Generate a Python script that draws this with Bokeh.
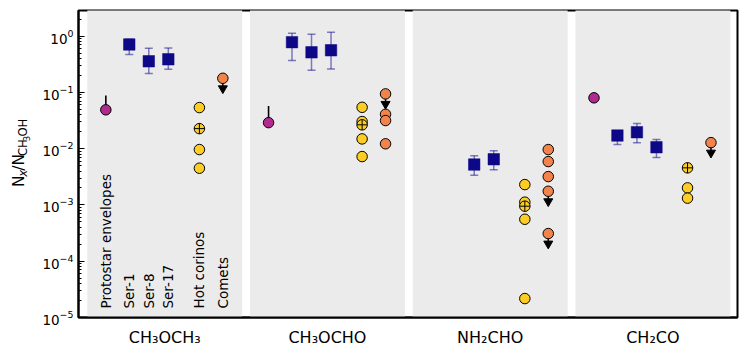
import numpy as np
from bokeh.plotting import figure
from bokeh.layouts import row
from bokeh.models import ColumnDataSource, FixedTicker, LabelSet, Range1d
from bokeh.core.properties import value
from bokeh.embed import file_html
from bokeh.resources import INLINE

# ---------------- data ----------------
molecules = ["CH₃OCH₃", "CH₃OCHO", "NH₂CHO", "CH₂CO"]
source_names = ["Protostar envelopes", "Ser-1", "Ser-8", "Ser-17", "Hot corinos", "Comets"]
source_offsets = [-0.362, -0.218, -0.098, 0.022, 0.213, 0.357]

# Protostar envelopes
env_group = [0, 1, 3]
env_vals = [0.049, 0.029, 0.080]
env_bar_group = [0, 1]
env_bar_vals = [0.049, 0.029]
env_bar_tops = [0.088, 0.057]

# Serpens sources
ser1_group = [0, 1, 3]
ser1_vals = [0.71, 0.78, 0.0171]
ser1_upper = [0.88, 1.12, 0.020]
ser1_lower = [0.47, 0.37, 0.0118]

ser8_group = [0, 1, 2, 3]
ser8_vals = [0.357, 0.515, 0.00522, 0.0196]
ser8_upper = [0.607, 1.08, 0.00745, 0.0279]
ser8_lower = [0.216, 0.247, 0.00337, 0.0128]

ser17_group = [0, 1, 2, 3]
ser17_vals = [0.387, 0.560, 0.00648, 0.0106]
ser17_upper = [0.617, 1.17, 0.00914, 0.0145]
ser17_lower = [0.257, 0.261, 0.0042, 0.00695]

# Hot corinos
hot_group = [0, 0, 0, 1, 1, 1, 1, 2, 2, 2, 2, 3, 3]
hot_vals = [0.0537, 0.00964, 0.00449,
            0.0543, 0.0303, 0.0149, 0.00724,
            0.0023, 0.00112, 0.000557, 2.17e-5,
            0.00201, 0.00132]
hot_cross_group = [0, 1, 2, 3]
hot_cross_vals = [0.0227, 0.0265, 0.00095, 0.00456]

# Comets
comet_group = [1, 1, 1, 2, 2, 2]
comet_vals = [0.0408, 0.0316, 0.0122, 0.00964, 0.0059, 0.00319]
comet_lim_group = [0, 1, 2, 2, 3]
comet_lim_vals = [0.178, 0.094, 0.00175, 0.00031, 0.0128]

# y-axis title pieces: N_x / N_{CH3OH}
ylabel_text = ["N", "x", "/N", "CH", "3", "OH"]
ylabel_level = [0, 1, 0, 1, 2, 1]          # 0 normal, 1 subscript, 2 sub-subscript
ylabel_style = ["normal", "italic", "normal", "normal", "normal", "normal"]
ylabel_em = [0.748, 0.592, 0.337 + 0.748, 0.698 + 0.752, 0.636, 0.787 + 0.752]

# ---------------- style ----------------
C_ENV = "#b12a90"
C_SER = "#0d0887"
C_HOT = "#fcce25"
C_COM = "#f2844b"
PANEL = "#ebebeb"
FONT = "DejaVu Sans"

LABEL_W = 36
x_start, x_end = -0.53, 3.52
y_start, y_end = 1e-5, 2.85

p = figure(frame_width=659, frame_height=307, y_axis_type="log",
           x_range=Range1d(x_start, x_end), y_range=Range1d(y_start, y_end),
           output_backend="svg", toolbar_location=None,
           min_border_left=78 - LABEL_W, min_border_right=11, min_border_top=10, min_border_bottom=33)
p.background_fill_color = "white"
p.border_fill_color = "white"
p.outline_line_color = "black"
p.outline_line_width = 2
p.xgrid.visible = False
p.ygrid.visible = False


def xs(groups, k):
    return [g + source_offsets[k] for g in groups]


# panels
groups = list(range(len(molecules)))
p.quad(left=[g - 0.476 for g in groups], right=[g + 0.476 for g in groups],
       bottom=[y_start * 0.1] * len(groups), top=[y_end * 10] * len(groups),
       fill_color=PANEL, line_color=None)

# protostar envelopes
p.segment(x0=xs(env_bar_group, 0), y0=env_bar_vals, x1=xs(env_bar_group, 0), y1=env_bar_tops,
          line_color="black", line_width=1.6)
p.scatter(xs(env_group, 0), env_vals, marker="circle", size=10.5,
          fill_color=C_ENV, line_color="black", line_width=1)

# Serpens with error bars
for k, (g, v, up, lo) in enumerate([(ser1_group, ser1_vals, ser1_upper, ser1_lower),
                                    (ser8_group, ser8_vals, ser8_upper, ser8_lower),
                                    (ser17_group, ser17_vals, ser17_upper, ser17_lower)], start=1):
    x = xs(g, k)
    p.segment(x0=x, y0=lo, x1=x, y1=up, line_color=C_SER, line_alpha=0.5, line_width=1.5)
    p.scatter(x + x, lo + up, marker="dash", size=8, line_color=C_SER, line_alpha=0.5, line_width=1.5)
    p.scatter(x, v, marker="square", size=11.5, fill_color=C_SER, line_color=C_SER, line_width=0.5)

# hot corinos
p.scatter(xs(hot_group, 4), hot_vals, marker="circle", size=10.5,
          fill_color=C_HOT, line_color="black", line_width=1)
p.scatter(xs(hot_cross_group, 4), hot_cross_vals, marker="circle_cross", size=10.5,
          fill_color=C_HOT, line_color="black", line_width=1)

# comets
p.scatter(xs(comet_group, 5), comet_vals, marker="circle", size=10.5,
          fill_color=C_COM, line_color="black", line_width=1)
arrow_shift = 10 ** (-0.18)
lim_x = xs(comet_lim_group, 5)
p.segment(x0=lim_x, y0=comet_lim_vals, x1=lim_x, y1=[v * arrow_shift for v in comet_lim_vals],
          line_color="black", line_width=1.5)
p.scatter(lim_x, [v * arrow_shift for v in comet_lim_vals], marker="inverted_triangle", size=9,
          fill_color="black", line_color="black")
p.scatter(lim_x, comet_lim_vals, marker="circle", size=10.5,
          fill_color=C_COM, line_color="black", line_width=1)

# source labels in first panel
lab_src = ColumnDataSource(dict(x=list(source_offsets), y=[y_start] * len(source_names), text=source_names))
p.add_layout(LabelSet(x="x", y="y", text="text", source=lab_src, angle=np.pi / 2,
                      text_align="left", text_baseline="middle", y_offset=9,
                      text_font=value(FONT), text_font_size=value("13.5px"), text_color="black"))

# axes
xa = p.xaxis[0]
xa.ticker = FixedTicker(ticks=groups)
xa.major_label_overrides = {g: m for g, m in zip(groups, molecules)}
xa.major_tick_line_color = None
xa.minor_tick_line_color = None
xa.axis_line_width = 2
xa.major_label_text_font = FONT
xa.major_label_text_font_size = "16px"
xa.major_label_text_color = "black"
xa.major_label_standoff = 4

ya = p.yaxis[0]
ya.axis_line_width = 2
ya.major_tick_in = 6
ya.major_tick_out = 0
ya.minor_tick_in = 3
ya.minor_tick_out = 0
ya.major_tick_line_color = "black"
ya.minor_tick_line_color = "black"
ya.major_label_text_font = FONT
ya.major_label_text_font_size = "13.5px"
ya.major_label_text_color = "black"
ya.major_label_standoff = 5

# ---------------- y-axis title strip (pixel-space figure, y measured from bottom) ----------------
H = 350
q = figure(width=LABEL_W, height=H, x_range=Range1d(0, LABEL_W), y_range=Range1d(0, H),
           output_backend="svg", toolbar_location=None,
           x_axis_location=None, y_axis_location=None,
           min_border_left=0, min_border_right=0, min_border_top=0, min_border_bottom=0)
q.outline_line_color = None
q.xgrid.visible = False
q.ygrid.visible = False
q.background_fill_color = "white"
q.border_fill_color = "white"

F = 15.5
scale = [1.0, 0.75, 0.55]
shift = [0.0, 3.5, 6.0]
baseline_x = 23.5
centre_y = H - 163.5
sizes = [F * scale[l] for l in ylabel_level]
widths = [s * w for s, w in zip(sizes, ylabel_em)]
total = sum(widths)
ys, acc = [], 0.0
for w in widths:
    ys.append(centre_y - total / 2 + acc)
    acc += w
ysrc = ColumnDataSource(dict(x=[baseline_x + shift[l] for l in ylabel_level], y=ys, text=ylabel_text,
                             size=[f"{s:.1f}px" for s in sizes], style=ylabel_style))
q.add_layout(LabelSet(x="x", y="y", text="text", source=ysrc, angle=np.pi / 2,
                      text_align="left", text_baseline="alphabetic",
                      text_font=value(FONT), text_font_size="size", text_font_style="style",
                      text_color="black"))

layout = row(q, p)
open("out.html", "w").write(file_html(layout, INLINE))
